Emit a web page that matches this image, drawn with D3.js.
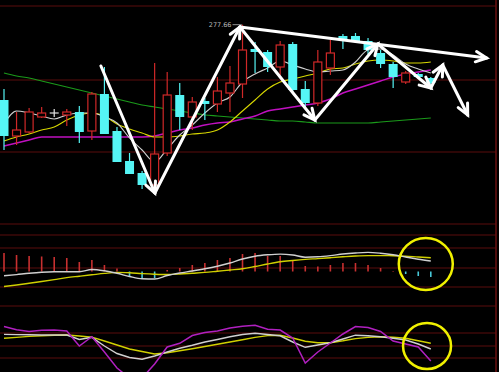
<!DOCTYPE html>
<html><head><meta charset="utf-8">
<script src="https://cdn.jsdelivr.net/npm/d3@7"></script>
<style>html,body{margin:0;padding:0;background:#000;}svg{display:block;}</style>
</head><body>
<script>
// ---- data ----
const opens  = [240,222,224,231.5,233.5,232.5,234,224.5,243,224.5,209.5,203.5,197.5,213.5,242.5,231.5,239.5,238,243.5,248,265.5,264,256.5,268,245.5,238.5,256,272,272,269.5,263.5,258,249,253,251];
const highs  = [245.5,234,236,236.5,235.5,235.5,237,244,256.5,226.5,213.5,204.5,258.5,254,248.5,241.5,241,251.5,257,277.66,269,265,269.5,269,249.5,265,270,273,273.5,271,265,259,254.5,253.5,251.5];
const lows   = [215,217.5,223.5,231,231.5,227,218.5,220,223,209,203,195.5,196,212,225,225,230,234,234,241,253.5,254,252.5,244,236.5,237,252.5,265.5,268.5,263,256,246,248,250.5,247.5];
const closes = [222,225,234,233.5,233.5,234,224,243,223,209,203,197.5,213,242.5,231.5,239,238,244.5,248.5,265,264,256.5,267.5,245,238.5,259,263.5,270.5,269.5,265,258,251.5,253.5,251.5,248.5];
const ma5  = [228,234.5,233.5,232,230.5,232.5,233.5,233.5,231.5,228.5,221,215,209,215.5,222.5,227.5,233.5,238.5,241.5,249,253,256,259.5,257.5,255.5,254,254.5,255,259,265,265.5,262.5,258,255.5,253.5];
const ma10 = [219.5,221.5,223,225,226.5,230,232.5,233.5,232,228,225.5,223.5,221.5,221.5,222,223,223.5,225,229,234.5,240,245.5,249,250.5,252,253.5,255.5,256,258,259.5,260,259.5,258.5,258.5,259];
const ma20 = [217,218.5,220,221.5,221.5,221.5,221.5,221.5,221.5,221.5,221.5,221.5,222,223.5,225,226,227.5,228.5,229,230.5,232,234.5,235.5,236.5,237.5,238.5,240.5,243.5,245.5,247.5,249.5,251.5,253,254,255];
const ma60 = [253.5,252,251,249.5,248,246.5,245,243.5,242,240.5,239,237.5,236.5,235.5,234.5,233.5,232.5,232,231.5,231,230.5,230,229.5,229.5,229,228.5,228.5,228.5,228.5,228.5,229,229.5,230,230.5,231];
const macdBar = [1.85,1.65,1.55,1.5,1.45,1.35,0.95,1.15,0.65,0.3,-0.45,-0.75,-0.65,0.15,0.35,0.65,0.85,1.15,1.35,1.75,1.85,1.55,1.55,1.15,0.55,0.5,0.65,0.85,0.85,0.65,0.35,0.05,-0.25,-0.45,-0.55];
const dif = [-0.43,-0.31,-0.18,-0.08,-0.03,-0.02,-0.02,0.2,0.07,-0.18,-0.5,-0.73,-0.75,-0.4,-0.15,0.05,0.27,0.53,0.85,1.25,1.53,1.67,1.74,1.65,1.43,1.47,1.59,1.75,1.85,1.91,1.83,1.68,1.45,1.23,1.05];
const dea = [-1.5,-1.35,-1.18,-1.0,-0.81,-0.61,-0.47,-0.33,-0.19,-0.09,-0.13,-0.21,-0.27,-0.3,-0.25,-0.17,-0.09,0.03,0.15,0.27,0.5,0.75,0.97,1.1,1.21,1.29,1.38,1.47,1.55,1.59,1.59,1.58,1.53,1.45,1.38];
const kLine = [71.2,70.8,70.4,70,70,70,61,65.4,48,33,25,21.4,28,36,43.4,49.4,56,61,66.4,71,73.6,71,68.4,56,45.4,50,54.6,62,69.6,68.4,66.6,63.4,60,52,42];
const dLine = [63.6,65.2,67.2,68.4,69.6,70,68,65.6,58,50,42,37,32,34.6,38.6,42.6,47,51.4,56,60.4,65.2,68.8,69.6,64,57.6,54.6,54.6,58.4,62.8,65.2,66.4,65.4,63.4,58.4,53.4];
const jLine = [87,80.6,77,79.4,80,78,48,66.6,36,4,-16,-16,12,46,53.4,69,75,78,84,87.4,89.6,81.4,80,64,14,36,54,72,87,85,77,58,52,46,18];
// hand-drawn arrows: [index, price]
const zigzag = [[7.72,257],[12.02,193.5],[18.79,276.5],[24.76,230],[29.78,268],[34.0,246],[34.95,257.5],[36.94,232.5]];
const trendLine = [[18.79,276.5],[38.45,261]];
const highLabel = "277.66";
const mainGrid = [287,250,214,178];
const macdGrid = [3.65,2.35,0.35,-1.55];
const kdjGrid = [128,74,48,24];

// ---- drawing ----
const W = 499, H = 372;
const svg = d3.select("body").append("svg").attr("width", W).attr("height", H).style("background","#000");
const x = d3.scaleLinear().domain([0, 34]).range([4, 430.8]);
const yP = d3.scaleLinear().domain([178, 287]).range([224, 6]);
const yM = d3.scaleLinear().domain([-3.45, 3.65]).range([306, 235]);
const yK = d3.scaleLinear().domain([-4, 128]).range([372, 306]);
const gridCol = "#5a0c0c";

const defs = svg.append("defs");
[["cm",6,224],["cd",235,306],["ck",306,372]].forEach(([id,a,b])=>{
  defs.append("clipPath").attr("id",id).append("rect").attr("x",0).attr("y",a).attr("width",496).attr("height",b-a);
});

const grid = svg.append("g");
mainGrid.forEach(v=>grid.append("line").attr("x1",0).attr("x2",496).attr("y1",yP(v)).attr("y2",yP(v)).attr("stroke",gridCol).attr("stroke-width",1.2));
macdGrid.forEach(v=>grid.append("line").attr("x1",0).attr("x2",496).attr("y1",yM(v)).attr("y2",yM(v)).attr("stroke",gridCol).attr("stroke-width",1.2));
kdjGrid.forEach(v=>grid.append("line").attr("x1",0).attr("x2",496).attr("y1",yK(v)).attr("y2",yK(v)).attr("stroke",gridCol).attr("stroke-width",1.2));
grid.append("line").attr("x1",496).attr("x2",496).attr("y1",0).attr("y2",H).attr("stroke","#6a1010").attr("stroke-width",1.5);

// MA lines
const gm = svg.append("g").attr("clip-path","url(#cm)");
const lineP = d3.line().x((d,i)=>x(i)).y(d=>yP(d)).curve(d3.curveMonotoneX);
[[ma60,"#1a9a1a",1.2],[ma20,"#c010c0",1.5],[ma10,"#d8d800",1.1],[ma5,"#d0d0d0",1.1]].forEach(([arr,c,w])=>{
  gm.append("path").datum(arr).attr("d",lineP).attr("fill","none").attr("stroke",c).attr("stroke-width",w);
});

// candles
const RED = "#d02828", CYAN = "#55f5f5";
const bw = 9;
const cg = gm.append("g");
opens.forEach((o,i)=>{
  const c = closes[i], hi = highs[i], lo = lows[i], cx = x(i);
  if (o === c) {
    cg.append("line").attr("x1",cx-bw/2).attr("x2",cx+bw/2).attr("y1",yP(o)).attr("y2",yP(o)).attr("stroke","#e0e0e0").attr("stroke-width",1.2);
    cg.append("line").attr("x1",cx).attr("x2",cx).attr("y1",yP(hi)).attr("y2",yP(lo)).attr("stroke","#e0e0e0").attr("stroke-width",1.2);
  } else if (c > o) {
    cg.append("line").attr("x1",cx).attr("x2",cx).attr("y1",yP(hi)).attr("y2",yP(c)).attr("stroke",RED).attr("stroke-width",1.2);
    cg.append("line").attr("x1",cx).attr("x2",cx).attr("y1",yP(o)).attr("y2",yP(lo)).attr("stroke",RED).attr("stroke-width",1.2);
    cg.append("rect").attr("x",cx-bw/2+0.5).attr("y",yP(c)).attr("width",bw-1).attr("height",Math.max(1,yP(o)-yP(c)))
      .attr("fill","#000").attr("stroke",RED).attr("stroke-width",1.2);
  } else {
    cg.append("line").attr("x1",cx).attr("x2",cx).attr("y1",yP(hi)).attr("y2",yP(lo)).attr("stroke",CYAN).attr("stroke-width",1.2);
    cg.append("rect").attr("x",cx-bw/2).attr("y",yP(o)).attr("width",bw).attr("height",Math.max(1.5,yP(c)-yP(o))).attr("fill",CYAN);
  }
});

// high label
const hiIdx = highs.indexOf(d3.max(highs));
svg.append("text").attr("x",x(hiIdx)-11).attr("y",yP(highs[hiIdx])+2.5).attr("text-anchor","end")
  .attr("font-family","DejaVu Sans, sans-serif").attr("font-size",6.5).attr("fill","#b8b8b8").text(highLabel);
svg.append("line").attr("x1",x(hiIdx)-10).attr("x2",x(hiIdx)-2).attr("y1",yP(highs[hiIdx])).attr("y2",yP(highs[hiIdx])).attr("stroke","#b8b8b8").attr("stroke-width",0.8);

// MACD
const gd = svg.append("g").attr("clip-path","url(#cd)");
macdBar.forEach((v,i)=>{
  gd.append("line").attr("x1",x(i)).attr("x2",x(i)).attr("y1",yM(0)).attr("y2",yM(v))
    .attr("stroke", v>=0 ? "#c83030" : "#48c8d8").attr("stroke-width",1.6);
});
const lineM = d3.line().x((d,i)=>x(i)).y(d=>yM(d)).curve(d3.curveMonotoneX);
gd.append("path").datum(dea).attr("d",lineM).attr("fill","none").attr("stroke","#d0d000").attr("stroke-width",1.4);
gd.append("path").datum(dif).attr("d",lineM).attr("fill","none").attr("stroke","#d0d0d0").attr("stroke-width",1.4);

// KDJ
const gk = svg.append("g").attr("clip-path","url(#ck)");
const lineK = d3.line().x((d,i)=>x(i)).y(d=>yK(d));
gk.append("path").datum(dLine).attr("d",lineK).attr("fill","none").attr("stroke","#d0d000").attr("stroke-width",1.4);
gk.append("path").datum(kLine).attr("d",lineK).attr("fill","none").attr("stroke","#d0d0d0").attr("stroke-width",1.4);
gk.append("path").datum(jLine).attr("d",lineK).attr("fill","none").attr("stroke","#b020c0").attr("stroke-width",1.5);

// arrows
const ga = svg.append("g").attr("stroke","#fff").attr("stroke-width",3).attr("stroke-linecap","round").attr("fill","none");
function arrow(p, q) {
  const x1 = x(p[0]), y1 = yP(p[1]), x2 = x(q[0]), y2 = yP(q[1]);
  ga.append("line").attr("x1",x1).attr("y1",y1).attr("x2",x2).attr("y2",y2);
  const ang = Math.atan2(y2-y1, x2-x1), L = 12, a = 0.45;
  ga.append("path").attr("stroke-linejoin","miter").attr("d",
    `M${x2-L*Math.cos(ang-a)},${y2-L*Math.sin(ang-a)} L${x2},${y2} L${x2-L*Math.cos(ang+a)},${y2-L*Math.sin(ang+a)}`);
}
for (let i=0;i<zigzag.length-1;i++) arrow(zigzag[i], zigzag[i+1]);
arrow(trendLine[0], trendLine[1]);

// yellow circles
svg.append("ellipse").attr("cx",x(33.6)).attr("cy",yM(0.75)).attr("rx",27).attr("ry",26).attr("fill","none").attr("stroke","#f0f000").attr("stroke-width",2.5);
svg.append("ellipse").attr("cx",x(33.7)).attr("cy",yK(48)).attr("rx",24).attr("ry",23).attr("fill","none").attr("stroke","#f0f000").attr("stroke-width",2.5);
</script>
</body></html>
